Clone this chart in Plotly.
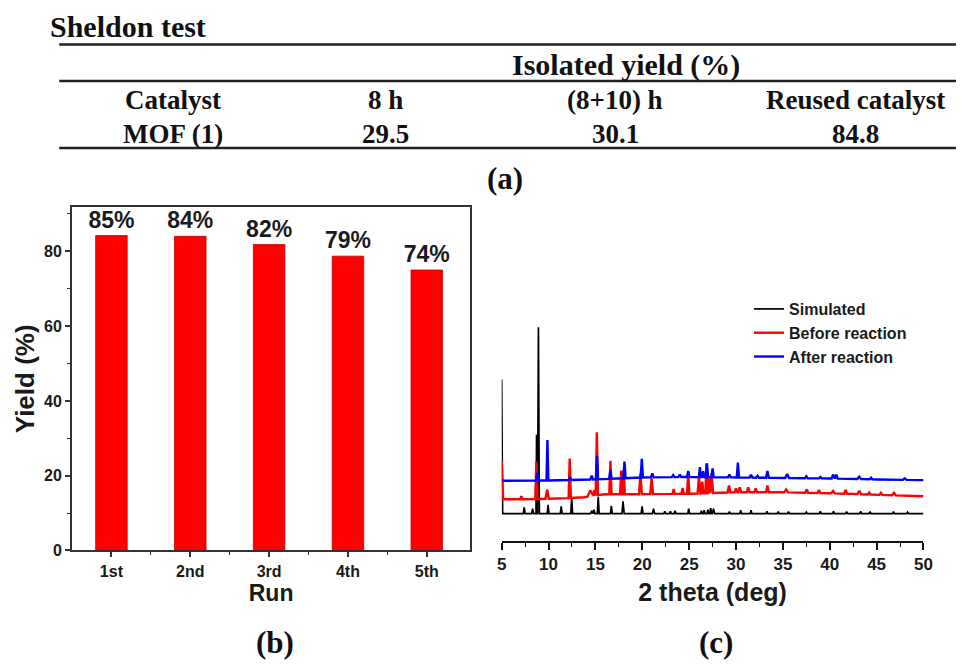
import numpy as np
import plotly.graph_objects as go

# ---------------- data ----------------
table_title = "Sheldon test"
table_group = "Isolated yield (%)"
table_header = ["Catalyst", "8 h", "(8+10) h", "Reused catalyst"]
table_row = ["MOF (1)", "29.5", "30.1", "84.8"]

runs = ["1st", "2nd", "3rd", "4th", "5th"]
run_pos = [1, 2, 3, 4, 5]
yield_values = [84.2, 84.0, 81.8, 78.7, 75.0]
yield_labels = ["85%", "84%", "82%", "79%", "74%"]

# XRD patterns (2 theta in deg, intensity in arbitrary units incl. vertical offset)
sim_base_x = [5, 50]
sim_base_y = [27.3, 27.3]
sim_pos = [5.0, 7.4, 8.3, 8.72, 8.92, 9.95, 11.35, 12.47, 14.6, 14.85, 15.3, 16.7, 17.95,
           19.98, 21.2, 22.4, 23.0, 23.5, 24.95, 26.3, 26.6, 27.0, 27.3, 27.6, 29.3, 30.5,
           31.6, 33.3, 34.5, 35.6, 37.5, 39.0, 40.4, 41.8, 43.3, 44.3, 46.8, 48.3]
sim_h = [136, 6.5, 5, 80, 189, 9, 7.5, 16, 3, 4, 17, 8, 12.5,
         7.5, 5, 2.5, 2.5, 3, 5, 3, 3.5, 4, 5.5, 5, 2, 3.5,
         3.5, 2.5, 2, 2, 1.5, 2.5, 2.5, 2, 2.5, 2, 2, 1.5]
sim_w = [0.1, 0.1, 0.1, 0.06, 0.1, 0.1, 0.1, 0.1, 0.1, 0.1, 0.1, 0.1, 0.12,
         0.1, 0.12, 0.1, 0.1, 0.1, 0.1, 0.1, 0.1, 0.1, 0.1, 0.12, 0.1, 0.1,
         0.1, 0.1, 0.1, 0.1, 0.1, 0.1, 0.1, 0.1, 0.1, 0.1, 0.1, 0.1]

before_base_x = [5, 8, 12, 13.8, 16, 20, 25, 30, 35, 40, 45, 50]
before_base_y = [42, 42, 43, 44, 47, 47, 47.5, 49, 49, 48, 46.5, 45]
before_pos = [5.0, 7.1, 8.7, 9.85, 12.26, 14.45, 14.9, 15.15, 16.6, 17.75, 18.02, 19.8, 21.0,
              23.35, 24.3, 24.9, 26.05, 26.4, 26.85, 27.1, 27.4, 29.25, 30.0, 30.4, 31.3,
              32.1, 33.35, 35.35, 37.55, 38.85, 40.35, 41.7, 43.15, 44.2, 45.45, 46.85]
before_h = [39, 3, 38, 9, 40, 6, 6, 64, 34, 24, 24, 21, 16,
            5, 6, 22, 17, 12, 30, 15, 20, 7, 4, 5, 5,
            4, 7, 3, 3.5, 3, 2.5, 4, 3.5, 2, 2, 2.5]
before_w = [0.15, 0.1, 0.12, 0.18, 0.12, 0.3, 0.1, 0.12, 0.12, 0.12, 0.12, 0.15, 0.15,
            0.12, 0.12, 0.12, 0.15, 0.12, 0.12, 0.1, 0.15, 0.15, 0.15, 0.15, 0.15,
            0.15, 0.15, 0.2, 0.15, 0.15, 0.2, 0.15, 0.2, 0.15, 0.15, 0.2]

after_base_x = [5, 10, 15, 20, 25, 30, 35, 40, 45, 50]
after_base_y = [60.7, 61, 62, 64, 64.5, 64, 63.5, 63, 62, 61.3]
after_pos = [8.8, 9.88, 12.3, 14.6, 15.17, 16.6, 18.1, 19.95, 21.07, 23.3, 24.0, 24.9,
             26.15, 26.5, 26.9, 27.5, 29.3, 30.2, 31.6, 32.3, 33.35, 35.45, 37.5, 39.0,
             40.35, 40.7, 43.15, 44.4, 48.0]
after_h = [8, 41, 3, 4, 24, 9, 17, 19, 4, 2, 2.5, 6,
           10, 6, 14, 9, 3, 15, 3, 2, 7, 4, 2, 1.5,
           4, 4, 2.5, 1.5, 1.5]
after_w = [0.12, 0.1, 0.12, 0.15, 0.12, 0.12, 0.12, 0.12, 0.15, 0.15, 0.15, 0.12,
           0.12, 0.12, 0.12, 0.12, 0.15, 0.12, 0.15, 0.15, 0.15, 0.2, 0.15, 0.15,
           0.15, 0.15, 0.2, 0.15, 0.2]

series_names = ["Simulated", "Before reaction", "After reaction"]
series_colors = ["#000000", "#ff0000", "#0000ff"]


def pattern(base_x, base_y, pos, h, w):
    """Piecewise-linear pattern through the baseline knots and the read peak tops."""
    pts = set(base_x)
    for p, ww in zip(pos, w):
        pts.update([p - ww, p, p + ww])
    xs = np.array(sorted(x for x in pts if 5 <= x <= 50))
    base = np.interp(xs, base_x, base_y)
    add = np.zeros_like(xs)
    for p, hh, ww in zip(pos, h, w):
        tri = hh * np.clip(1 - np.abs(xs - p) / ww, 0, None)
        add = np.maximum(add, tri)
    return xs, base + add


fig = go.Figure()

# ---------------- (b) bar chart ----------------
fig.add_trace(go.Bar(
    x=run_pos, y=yield_values, width=0.4,
    marker=dict(color="#ff0000", line=dict(color="#c00000", width=0.8)),
    text=yield_labels, textposition="outside", cliponaxis=False, constraintext="none",
    textfont=dict(family="Liberation Sans, Arial", size=23, color="#1a1a1a", weight="bold"),
    xaxis="x", yaxis="y", showlegend=False,
))

# ---------------- (c) XRD ----------------
xrd = [(sim_base_x, sim_base_y, sim_pos, sim_h, sim_w),
       (before_base_x, before_base_y, before_pos, before_h, before_w),
       (after_base_x, after_base_y, after_pos, after_h, after_w)]
widths = [1.7, 2.4, 2.4]
for (bx, by, p, h, w), name, col, lw in zip(xrd, series_names, series_colors, widths):
    xs, ys = pattern(bx, by, p, h, w)
    fig.add_trace(go.Scatter(x=xs, y=ys, mode="lines", name=name,
                             line=dict(color=col, width=lw),
                             xaxis="x2", yaxis="y2", legendgroup=name))

W, H = 965, 668
px = lambda v: v / W
py = lambda v: 1 - v / H

axis_font = dict(family="Liberation Sans, Arial", color="#1a1a1a", weight="bold")

fig.update_layout(
    width=W, height=H, margin=dict(l=0, r=0, t=0, b=0),
    paper_bgcolor="white", plot_bgcolor="white",
    xaxis=dict(domain=[px(68), px(472)], range=[0.5, 5.55],
               tickmode="array", tickvals=run_pos, ticktext=runs,
               ticks="outside", ticklen=5, tickwidth=1.5, tickcolor="#333",
               minor=dict(tickvals=[1.5, 2.5, 3.5, 4.5], ticks="outside", ticklen=3,
                          tickcolor="#333", tickwidth=1.2),
               showline=True, linecolor="#333", linewidth=1.8, mirror=True,
               showgrid=False, zeroline=False,
               tickfont=dict(size=16, **axis_font),
               title=dict(text="Run", font=dict(size=23, **axis_font), standoff=2)),
    yaxis=dict(domain=[py(558), py(210)], range=[0, 91.8],
               tickvals=[0, 20, 40, 60, 80],
               ticks="outside", ticklen=5, tickwidth=1.5, tickcolor="#333",
               minor=dict(dtick=10, ticks="outside", ticklen=3, tickcolor="#333", tickwidth=1.2),
               showline=True, linecolor="#333", linewidth=1.8, mirror=True,
               showgrid=False, zeroline=False,
               tickfont=dict(size=16, **axis_font),
               title=dict(text="Yield (%)", font=dict(size=26, **axis_font), standoff=2)),
    xaxis2=dict(domain=[px(504), px(932)], range=[5, 50], anchor="y2",
                tick0=5, dtick=5, ticks="outside", ticklen=7, tickwidth=1.5, tickcolor="#111",
                minor=dict(dtick=2.5, tick0=5, ticks="outside", ticklen=4, tickcolor="#111", tickwidth=1.3),
                showline=True, linecolor="#111", linewidth=2,
                showgrid=False, zeroline=False,
                tickfont=dict(size=17, **axis_font),
                title=dict(text="2 theta (deg)", font=dict(size=25, **axis_font), standoff=10)),
    yaxis2=dict(domain=[py(548), py(290)], range=[0, 258], anchor="x2", visible=False),
    legend=dict(x=px(755), y=py(296), xanchor="left", yanchor="top",
                font=dict(family="Liberation Sans, Arial", size=16, color="#1a1a1a", weight="bold"),
                bgcolor="rgba(0,0,0,0)", tracegroupgap=0),
)

# ---------------- (a) table ----------------
serif = "Liberation Serif, Times New Roman"
ann = []
ann.append(dict(text=table_title, x=px(44), y=py(27), xanchor="left", yanchor="middle",
                font=dict(family=serif, size=30, color="#111", weight="bold")))
ann.append(dict(text=table_group, x=px(630), y=py(66), xanchor="center", yanchor="middle",
                font=dict(family=serif, size=30, color="#111", weight="bold")))
col_x = [170, 386, 619, 863]
for cx, htxt, rtxt in zip(col_x, table_header, table_row):
    ann.append(dict(text=htxt, x=px(cx), y=py(101), xanchor="center", yanchor="middle",
                    font=dict(family=serif, size=27, color="#111", weight="bold")))
    ann.append(dict(text=rtxt, x=px(cx), y=py(136), xanchor="center", yanchor="middle",
                    font=dict(family=serif, size=27, color="#111", weight="bold")))
for lab, lx in [("(a)", 507), ("(b)", 274), ("(c)", 721)]:
    ly = 181 if lab == "(a)" else 651
    ann.append(dict(text=lab, x=px(lx), y=py(ly), xanchor="center", yanchor="middle",
                    font=dict(family=serif, size=31, color="#111", weight="bold")))
for a in ann:
    a.update(xref="paper", yref="paper", showarrow=False)
fig.update_layout(annotations=ann)

shapes = []
for ly in [45, 82, 150]:
    shapes.append(dict(type="line", xref="paper", yref="paper",
                       x0=px(55), x1=1, y0=py(ly), y1=py(ly),
                       line=dict(color="#222", width=2.5)))
fig.update_layout(shapes=shapes)

# remove the browser's default 8px body margin so the figure fills the window exactly
fig.write_html("out.html", config={"displayModeBar": False},
               post_script="document.body.style.margin='0';document.body.style.overflow='hidden';")
